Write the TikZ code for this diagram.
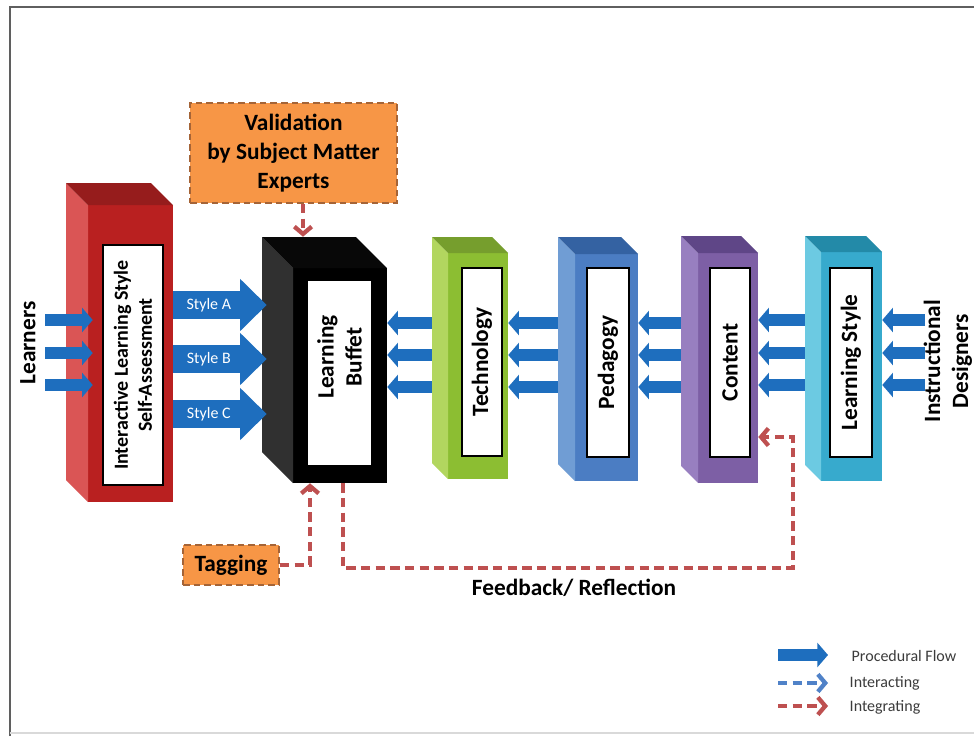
\documentclass[tikz,border=0pt]{standalone}
\usepackage{fontspec}
\setmainfont{Carlito}
\usetikzlibrary{arrows.meta,fit,calc}
\definecolor{redF}{RGB}{185,32,32}
\definecolor{redL}{RGB}{218,85,85}
\definecolor{redT}{RGB}{150,28,28}
\definecolor{blkF}{RGB}{0,0,0}
\definecolor{blkL}{RGB}{48,48,48}
\definecolor{blkT}{RGB}{8,8,8}
\definecolor{grnF}{RGB}{140,190,50}
\definecolor{grnL}{RGB}{178,214,95}
\definecolor{grnT}{RGB}{118,158,45}
\definecolor{bluF}{RGB}{75,125,195}
\definecolor{bluL}{RGB}{112,157,212}
\definecolor{bluT}{RGB}{52,98,162}
\definecolor{purF}{RGB}{125,95,165}
\definecolor{purL}{RGB}{152,127,192}
\definecolor{purT}{RGB}{95,70,135}
\definecolor{cyaF}{RGB}{55,170,205}
\definecolor{cyaL}{RGB}{108,202,226}
\definecolor{cyaT}{RGB}{35,138,168}
\definecolor{flow}{RGB}{30,110,190}
\definecolor{orng}{RGB}{247,150,70}
\definecolor{orngB}{RGB}{165,100,55}
\definecolor{integ}{RGB}{190,80,80}
\definecolor{inter}{RGB}{80,130,200}
\definecolor{legg}{RGB}{60,60,60}
\definecolor{frameg}{RGB}{95,95,95}
\newcommand\drawcube[7]{%
  \fill[#7F] (#2+#6,#3+#6) rectangle (#4,#5);
  \fill[#7L] (#2,#3) -- (#2+#6,#3+#6) -- (#2+#6,#5) -- (#2,#5-#6) -- cycle;
  \fill[#7T] (#2,#3) -- (#4-#6,#3) -- (#4,#3+#6) -- (#2+#6,#3+#6) -- cycle;
  \coordinate (#1-a) at (#2,#3);
  \coordinate (#1-b) at (#4,#5);
  \coordinate (#1-c) at (#2+#6,#3+#6);
  \node[fit=(#1-a)(#1-b),inner sep=0pt] (#1) {};
  \node[fit=(#1-c)(#1-b),inner sep=0pt] (#1f) {};
}
\begin{document}
\begin{tikzpicture}[x=0.75pt,y=-0.75pt,
  wlab/.style={draw=black,line width=1.6pt,fill=white,inner sep=0pt,rotate=90,
    font=\bfseries\fontsize{17.5}{20}\selectfont,align=center},
  flowS/.style={draw=flow,line width=9pt,-{Triangle[length=8pt,width=18pt]}},
  flowB/.style={draw=flow,line width=21pt,-{Triangle[length=20pt,width=38pt]}},
  integr/.style={draw=integ,line width=3.2pt,dash pattern=on 7pt off 4pt,
    -{Straight Barb[length=5.5pt,width=13pt]}},
  interl/.style={draw=inter,line width=3.2pt,dash pattern=on 7pt off 4pt,
    -{Straight Barb[length=5.5pt,width=13pt]}},
  obox/.style={fill=orng,draw=orngB,line width=1.5pt,dash pattern=on 5pt off 3pt,
    font=\bfseries\fontsize{17.5}{21.5}\selectfont,align=center,inner sep=0pt},
  bigt/.style={font=\bfseries\fontsize{17.5}{21}\selectfont,align=center},
  stylet/.style={text=white,font=\fontsize{12}{13}\selectfont},
  legt/.style={font=\fontsize{12}{13}\selectfont,text=legg,anchor=west}
]
\useasboundingbox (0,0) rectangle (974,736);
\fill[white] (0,0) rectangle (974,736);
% frame
\draw[frameg,line width=2pt] (10,736) -- (10,7) -- (974,7);
\draw[black!15,line width=0.8pt] (10,733) -- (974,733);

% cubes
\drawcube{assess}{66}{183}{173}{502}{22}{red}
\drawcube{buffet}{262}{237}{387}{483}{31}{blk}
\drawcube{tech}{432}{237}{508}{479}{16}{grn}
\drawcube{ped}{558}{237}{638}{481}{17}{blu}
\drawcube{cont}{681}{236}{758}{483}{17}{pur}
\drawcube{lstyle}{805}{236}{882}{481}{16}{cya}

% white labels
\node[wlab,minimum width=180pt,minimum height=45pt,font=\bfseries\fontsize{15}{18}\selectfont]
  (assesslab) at (133,365) {Interactive Learning Style\\Self-Assessment};
\node[wlab,minimum width=139.5pt,minimum height=48.75pt] (bufferlab) at (339.5,373) {};
\node[bigt,rotate=90] (buffettxt) at (339.5,357) {Learning\\Buffet};
\node[wlab,minimum width=141pt,minimum height=30pt] (techlab) at (482,362) {Technology};
\node[wlab,minimum width=141.75pt,minimum height=31.5pt] (pedlab) at (608,362.5) {Pedagogy};
\node[wlab,minimum width=141.75pt,minimum height=30pt] (contlab) at (730,362.5) {Content};
\node[wlab,minimum width=141.75pt,minimum height=31.5pt] (lstylelab) at (851,362.5) {Learning Style};

% side texts
\node[bigt,rotate=90] (learners) at (28,343) {Learners};
\node[bigt,rotate=90] (designers) at (948,361) {Instructional\\Designers};

% free ends
\coordinate (l1) at (45,320);
\coordinate (l2) at (45,353);
\coordinate (l3) at (45,385);
\coordinate (d1) at (925,320);
\coordinate (d2) at (925,353);
\coordinate (d3) at (925,385);

% learners arrows
\foreach \i in {1,2,3}{
  \draw[flowS] (l\i) -- ($(assessf.west |- l\i)+(5,0)$);
  \draw[flowS] (d\i) -- (lstyle.east |- d\i);
}
% style arrows
\draw[flowB] (assess.east |- 0,305) -- ($(buffet.west |- 0,305)+(5,0)$) node[stylet,pos=0.38] {Style A};
\draw[flowB] (assess.east |- 0,359) -- ($(buffet.west |- 0,359)+(5,0)$) node[stylet,pos=0.38] {Style B};
\draw[flowB] (assess.east |- 0,414) -- ($(buffet.west |- 0,414)+(5,0)$) node[stylet,pos=0.38] {Style C};

% leftward flows
\foreach \y in {323,355,387}{
  \draw[flowS] (tech.west |- 0,\y) -- (buffet.east |- 0,\y);
  \draw[flowS] (ped.west |- 0,\y) -- (tech.east |- 0,\y);
  \draw[flowS] (cont.west |- 0,\y) -- (ped.east |- 0,\y);
}
\foreach \y in {320,353,385}{
  \draw[flowS] (lstyle.west |- 0,\y) -- (cont.east |- 0,\y);
}

% orange boxes
\node[obox,minimum width=155pt,minimum height=75pt] (valid) at (293.5,153)
  {Validation\\by Subject Matter\\Experts};
\node[obox,minimum width=72pt,minimum height=30pt] (tag) at (231,565) {Tagging};

% integrating connectors
\draw[integr] (303,0 |- valid.south) -- (303,0 |- buffet.north);
\draw[integr] (tag.east) -| (310,0 |- buffet.south);
\draw[integr] (343,0 |- buffet.south) |- (793,568) |- (cont.east |- 0,437);
\node[bigt] (fb) at (574,588) {Feedback/ Reflection};

% legend
\coordinate (lg1a) at (778,655); \coordinate (lg1b) at (828,655);
\coordinate (lg2a) at (778,683); \coordinate (lg2b) at (828,683);
\coordinate (lg3a) at (778,706); \coordinate (lg3b) at (828,706);
\draw[flowS] (lg1a) -- (lg1b);
\draw[interl] (lg2a) -- (lg2b);
\draw[integr] (lg3a) -- (lg3b);
\node[legt] (lgt1) at (847,656) {Procedural Flow};
\node[legt] (lgt2) at (845,683) {Interacting};
\node[legt] (lgt3) at (845,707) {Integrating};
\end{tikzpicture}
\end{document}
